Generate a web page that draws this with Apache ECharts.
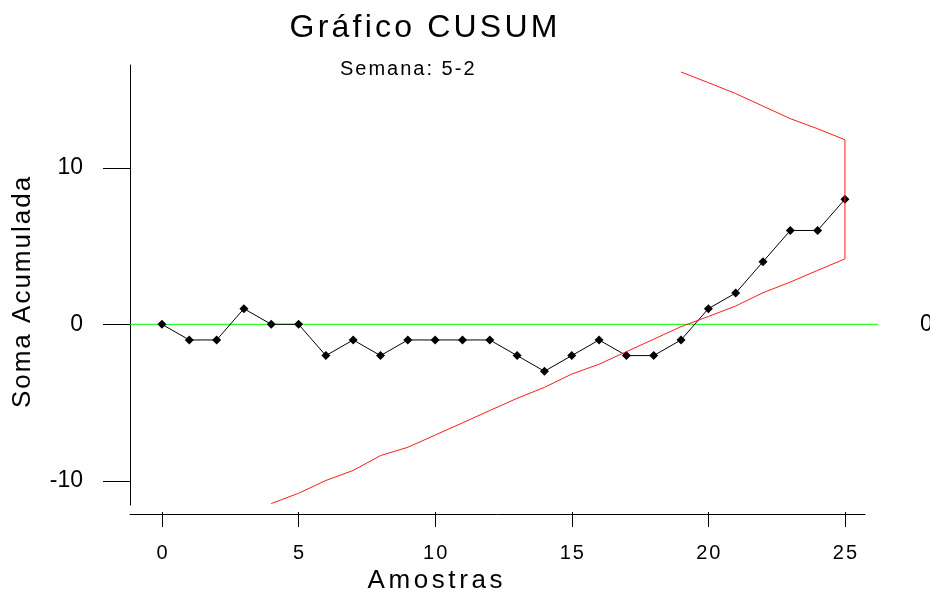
<!DOCTYPE html>
<html>
<head>
<meta charset="utf-8">
<script src="https://cdn.jsdelivr.net/npm/echarts@6/dist/echarts.min.js"></script>
<style>
  html, body { margin: 0; padding: 0; background: #ffffff; }
  #chart { width: 930px; height: 599px; }
</style>
</head>
<body>
<div id="chart"></div>
<script>
// Chart texts
const titleText = 'Gráfico CUSUM';
const subtitleText = 'Semana: 5-2';
const xAxisName = 'Amostras';
const yAxisName = 'Soma Acumulada';

// Cumulative sum per sample
const samples = [0, 1, 2, 3, 4, 5, 6, 7, 8, 9, 10, 11, 12, 13, 14, 15, 16, 17, 18, 19, 20, 21, 22, 23, 24, 25];
const cusum   = [0, -1, -1, 1, 0, 0, -2, -1, -2, -1, -1, -1, -1, -2, -3, -2, -1, -2, -2, -1, 1, 2, 4, 6, 6, 8];

// V-mask arms
const maskLowerX = [4, 5, 6, 7, 8, 9, 10, 11, 12, 13, 14, 15, 16, 17, 18, 19, 20, 21, 22, 23, 24, 25];
const maskLowerY = [-11.46, -10.8, -9.98, -9.34, -8.39, -7.86, -7.08, -6.3, -5.51, -4.73, -4.03, -3.18, -2.55, -1.75, -0.95, -0.15, 0.5, 1.17, 2.02, 2.7, 3.45, 4.18];
const maskUpperX = [25, 24, 23, 22, 21, 20, 19];
const maskUpperY = [11.8, 12.5, 13.15, 13.95, 14.75, 15.45, 16.13];

// Center line
const centerValue = 0;

// Tick labels
const xTicks = [0, 5, 10, 15, 20, 25];
const yTicks = [-10, 0, 10];

// Axis ranges
const xMin = -1.17;
const xMaxPlot = 26.21;  // plot area, reaches the end of the center line
const xMaxAxis = 25.73;  // drawn x axis line
const yMin = -11.55;
const yMax = 16.577;

const FONT = 'Liberation Sans, Arial, sans-serif';

// Wrap each character in a rich token so the text gets letter spacing
function spaced(text, style) {
  return String(text).split('').map(function (ch) { return '{' + style + '|' + ch + '}'; }).join('');
}

const cusumData = samples.map(function (x, i) { return [x, cusum[i]]; });
const maskData = maskLowerX.map(function (x, i) { return [x, maskLowerY[i]]; })
  .concat(maskUpperX.map(function (x, i) { return [x, maskUpperY[i]]; }));
const centerData = [[xMin, centerValue], [xMaxPlot, centerValue]];

const chart = echarts.init(document.getElementById('chart'), null, { renderer: 'canvas' });

chart.setOption({
  backgroundColor: '#ffffff',
  animation: false,
  title: [
    {
      text: spaced(titleText, 't'),
      left: 288,
      top: 12,
      padding: 0,
      textStyle: {
        fontWeight: 'normal',
        rich: { t: { fontSize: 32, fontFamily: FONT, fontWeight: 'normal', color: '#000', padding: [0, 1.6, 0, 1.6] } }
      }
    },
    {
      text: spaced(subtitleText, 's'),
      left: 339,
      top: 59,
      padding: 0,
      textStyle: {
        fontWeight: 'normal',
        rich: { s: { fontSize: 20, fontFamily: FONT, fontWeight: 'normal', color: '#000', padding: [0, 1, 0, 1] } }
      }
    }
  ],
  grid: [
    { left: 130, right: 52, top: 65, bottom: 92, containLabel: false },
    { left: 130, right: 65, top: 65, bottom: 92, containLabel: false }
  ],
  xAxis: [
    {
      type: 'value',
      gridIndex: 0,
      position: 'bottom',
      min: xMin,
      max: xMaxPlot,
      offset: 7,
      name: spaced(xAxisName, 'n'),
      nameLocation: 'middle',
      nameGap: 56,
      nameTextStyle: {
        padding: [0, 138, 0, 0],
        rich: { n: { fontSize: 26, fontFamily: FONT, color: '#000', padding: [0, 1.8, 0, 1.8] } }
      },
      axisLine: { show: false, onZero: false },
      axisTick: { show: true, length: 15, customValues: xTicks, lineStyle: { color: '#000' } },
      axisLabel: {
        customValues: xTicks,
        margin: 31,
        formatter: function (v) { return spaced(v, 'v'); },
        rich: { v: { fontSize: 20, fontFamily: FONT, color: '#000', padding: [0, 1, 0, 1] } }
      },
      splitLine: { show: false }
    },
    {
      type: 'value',
      gridIndex: 1,
      position: 'bottom',
      min: xMin,
      max: xMaxAxis,
      offset: 7,
      axisLine: { show: true, onZero: false, lineStyle: { color: '#000', width: 1 } },
      axisTick: { show: false },
      axisLabel: { show: false },
      splitLine: { show: false }
    }
  ],
  yAxis: [
    {
      type: 'value',
      gridIndex: 0,
      position: 'left',
      min: yMin,
      max: yMax,
      name: spaced(yAxisName, 'n'),
      nameLocation: 'middle',
      nameGap: 94,
      nameTextStyle: {
        padding: [0, 15, 0, 0],
        rich: { n: { fontSize: 26, fontFamily: FONT, color: '#000', padding: [0, 1, 0, 1] } }
      },
      axisLine: { show: true, onZero: false, lineStyle: { color: '#000', width: 1 } },
      axisTick: { show: true, length: 27, customValues: yTicks, lineStyle: { color: '#000' } },
      axisLabel: {
        customValues: yTicks,
        margin: 47,
        fontSize: 23,
        fontFamily: FONT,
        color: '#000'
      },
      splitLine: { show: false }
    },
    {
      type: 'value',
      gridIndex: 1,
      min: yMin,
      max: yMax,
      show: false
    }
  ],
  series: [
    {
      name: 'centro',
      type: 'line',
      xAxisIndex: 0,
      yAxisIndex: 0,
      data: centerData,
      symbol: 'none',
      silent: true,
      lineStyle: { color: '#00ff00', width: 1 },
      endLabel: {
        show: true,
        distance: 42,
        formatter: function () { return String(centerValue); },
        fontSize: 23,
        fontFamily: FONT,
        color: '#000'
      },
      z: 1
    },
    {
      name: 'cusum',
      type: 'line',
      xAxisIndex: 0,
      yAxisIndex: 0,
      data: cusumData,
      symbol: 'diamond',
      symbolSize: 9,
      itemStyle: { color: '#000' },
      lineStyle: { color: '#000', width: 1 },
      z: 2
    },
    {
      name: 'mascara',
      type: 'line',
      xAxisIndex: 0,
      yAxisIndex: 0,
      data: maskData,
      clip: false,
      symbol: 'none',
      lineStyle: { color: '#ff1a1a', width: 1 },
      z: 3
    }
  ]
});
</script>
</body>
</html>
